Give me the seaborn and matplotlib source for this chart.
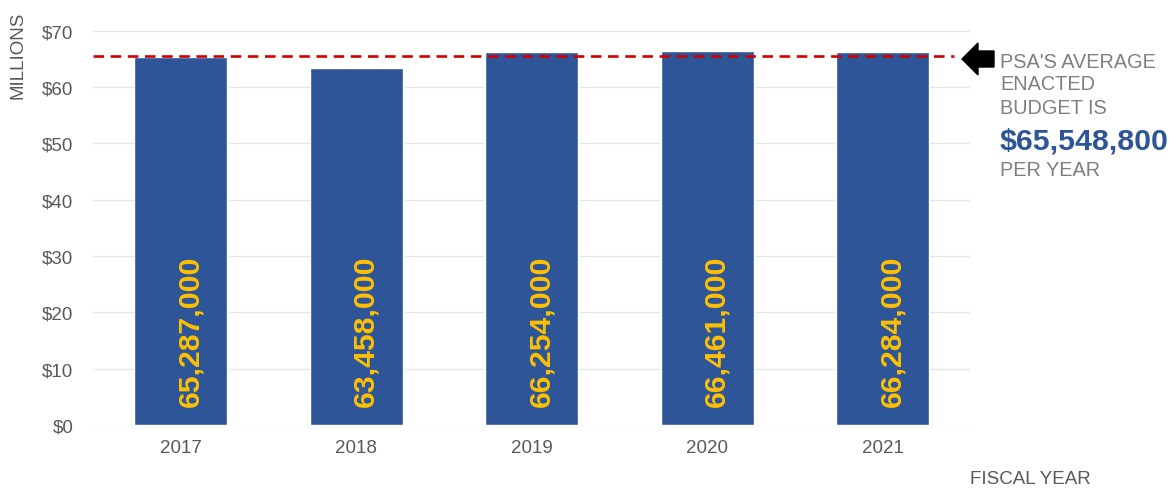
import matplotlib
matplotlib.use("Agg")
import matplotlib.pyplot as plt
from matplotlib.patches import FancyArrow
import seaborn as sns
import pandas as pd

# Enacted budget per fiscal year, in millions of dollars
years = ["2017", "2018", "2019", "2020", "2021"]
budget_millions = [65.287, 63.458, 66.254, 66.461, 66.284]
bar_labels = ["65,287,000", "63,458,000", "66,254,000", "66,461,000", "66,284,000"]
average_millions = 65.5488
average_label = "$65,548,800"
y_ticks = [0, 10, 20, 30, 40, 50, 60, 70]
y_tick_labels = ["$0", "$10", "$20", "$30", "$40", "$50", "$60", "$70"]

BAR_BLUE = "#2E5597"
LABEL_GOLD = "#FFC000"
TEXT_GRAY = "#595959"
NOTE_GRAY = "#7F7F7F"

sns.set_theme(style="white")
plt.rcParams["font.family"] = ["Liberation Sans", "DejaVu Sans"]

df = pd.DataFrame({"year": years, "budget": budget_millions})

fig = plt.figure(figsize=(11.76, 4.89), dpi=100)
ax = fig.add_axes([0.079, 0.129, 0.746, 0.806])

sns.barplot(data=df, x="year", y="budget", color=BAR_BLUE, saturation=1,
            width=0.53, ax=ax, zorder=2)

ax.set_xlim(-0.5, 4.5)
ax.set_ylim(0, 70)
ax.set_yticks(y_ticks)
ax.set_yticklabels(y_tick_labels)
ax.yaxis.grid(True, color="#E6E6E6", linewidth=1.0, zorder=0)
ax.set_axisbelow(True)
for side in ["top", "right", "left", "bottom"]:
    ax.spines[side].set_visible(False)
ax.tick_params(axis="both", length=0, labelsize=13.5, labelcolor=TEXT_GRAY)
ax.tick_params(axis="x", pad=10)
ax.tick_params(axis="y", pad=14)
ax.set_xlabel("")
ax.set_ylabel("")

# Value labels written vertically inside each bar
for i, lab in enumerate(bar_labels):
    ax.text(i + 0.055, 3.4, lab, rotation=90, ha="center", va="bottom",
            color=LABEL_GOLD, fontsize=21.7, fontweight="bold", zorder=3)

# Average budget reference line
ax.plot([-0.5, 4.41], [average_millions, average_millions], color="#D00000",
        linestyle=(0, (4, 2.5)), linewidth=1.9, zorder=4, clip_on=False)

# Axis titles
fig.text(18 / 1176, 1 - 12 / 489, "MILLIONS", rotation=90, ha="center", va="top",
         color=TEXT_GRAY, fontsize=13.5)
fig.text(970 / 1176, 1 - 480 / 489, "FISCAL YEAR", ha="left", va="center",
         color=TEXT_GRAY, fontsize=13.5)

# Pointer and note on the right
arrow = FancyArrow(994 / 1176, 1 - 60 / 489, -32 / 1176, 0,
                   width=16 / 489, head_width=32 / 489, head_length=16 / 1176,
                   length_includes_head=True, color="black",
                   transform=fig.transFigure, figure=fig)
fig.patches.append(arrow)

note_x = 1000 / 1176
fig.text(note_x, 1 - 62 / 489, "PSA'S AVERAGE", ha="left", va="center",
         color=NOTE_GRAY, fontsize=14.3)
fig.text(note_x, 1 - 85 / 489, "ENACTED", ha="left", va="center",
         color=NOTE_GRAY, fontsize=14.3)
fig.text(note_x, 1 - 108 / 489, "BUDGET IS", ha="left", va="center",
         color=NOTE_GRAY, fontsize=14.3)
fig.text(note_x, 1 - 141 / 489, average_label, ha="left", va="center",
         color=BAR_BLUE, fontsize=21.8, fontweight="bold")
fig.text(note_x, 1 - 171 / 489, "PER YEAR", ha="left", va="center",
         color=NOTE_GRAY, fontsize=14.3)

fig.savefig("out.png", dpi=100, facecolor="white")
